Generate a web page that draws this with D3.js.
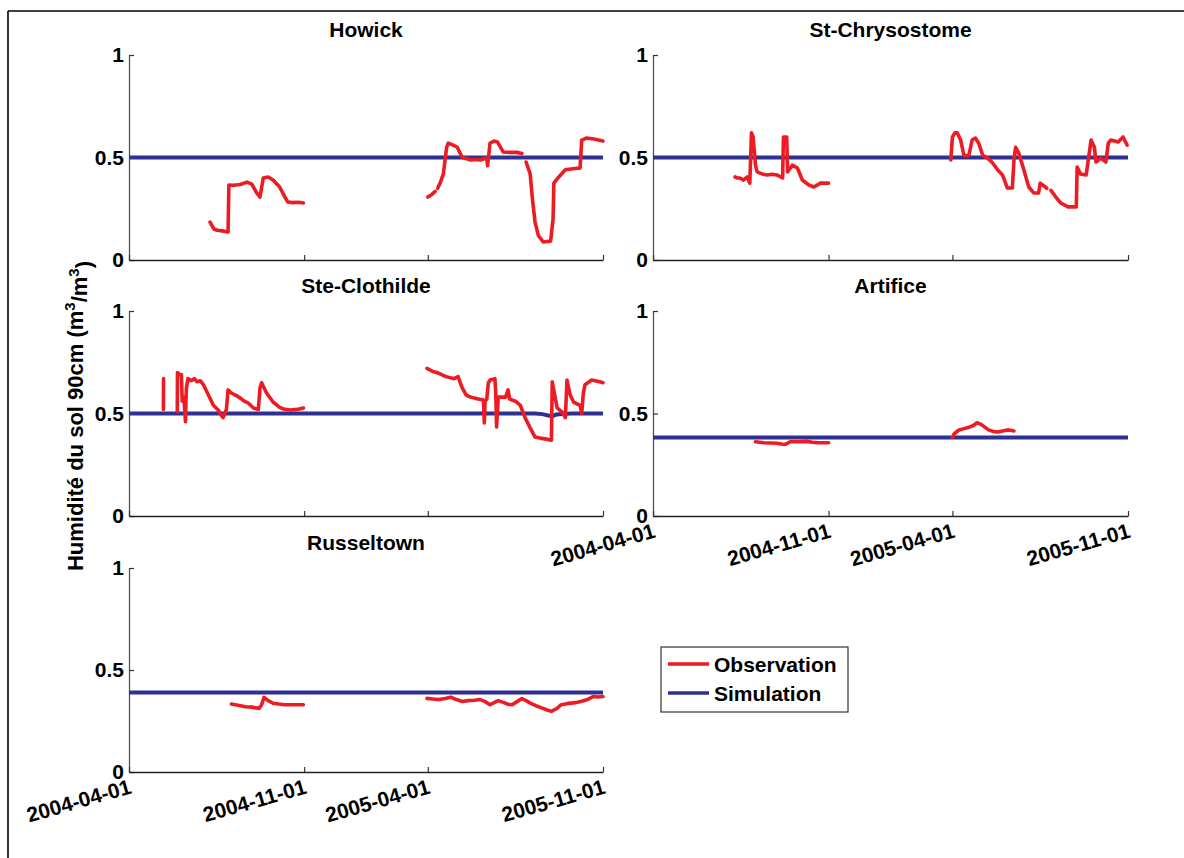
<!DOCTYPE html>
<html>
<head>
<meta charset="utf-8">
<script src="https://cdn.jsdelivr.net/npm/d3@7"></script>
<style>
  html, body { margin: 0; padding: 0; background: #fff; }
  svg { display: block; }
  text { font-family: "Liberation Sans", Arial, Helvetica, sans-serif; font-weight: bold; fill: #000; }
</style>
</head>
<body>
<svg id="chart" width="1184" height="858"></svg>
<script>
// ---------- DATA (days since 2004-04-01, volumetric soil moisture m3/m3) ----------
const startDate = "2004-04-01";
const endDate = "2005-11-01";
const xTickLabels = ["2004-04-01", "2004-11-01", "2005-04-01", "2005-11-01"];
const yTicks = [0, 0.5, 1];
const stations = ["Howick", "St-Chrysostome", "Ste-Clothilde", "Artifice", "Russeltown"];
const legendLabels = ["Observation", "Simulation"];

const howickObs = [
  [[99,0.185],[101,0.17],[104,0.15],[108,0.145],[114,0.142],[121,0.137],[122,0.366],[128,0.365],[136,0.368],[144,0.38],[150,0.37],[156,0.327],[160,0.307],[164,0.40],[170,0.405],[176,0.39],[184,0.356],[190,0.31],[194,0.283],[200,0.28],[207,0.282],[213,0.278]],
  [[365,0.307],[370,0.32],[374,0.335]],
  [[377,0.35],[380,0.375],[384,0.42],[388,0.55],[390,0.57],[396,0.56],[401,0.55],[407,0.50],[412,0.495],[417,0.488],[423,0.49],[429,0.488],[437,0.497],[438,0.46],[441,0.57],[446,0.58],[450,0.576],[457,0.527],[465,0.525],[474,0.525],[480,0.52]],
  [[485,0.478],[490,0.42],[493,0.29],[496,0.185],[500,0.12],[506,0.088],[515,0.092],[518,0.2],[519,0.375],[525,0.405],[533,0.44],[542,0.445],[551,0.449],[553,0.585],[559,0.595],[568,0.59],[579,0.58]]
];
const howickSim = [[0,0.5],[579,0.5]];

const chrysostomeObs = [
  [[100,0.405],[103,0.40],[106,0.40],[110,0.39],[115,0.405],[118,0.375],[120,0.62],[122,0.60],[125,0.46],[127,0.43],[133,0.42],[139,0.415],[145,0.418],[151,0.415],[158,0.40],[159,0.60],[163,0.60],[164,0.43],[170,0.463],[176,0.449],[182,0.39],[190,0.366],[196,0.356],[200,0.365],[204,0.375],[214,0.375]],
  [[363,0.488],[365,0.60],[368,0.62],[371,0.62],[375,0.585],[379,0.51],[385,0.51],[389,0.585],[393,0.595],[397,0.57],[402,0.51],[408,0.497],[414,0.473],[420,0.44],[426,0.415],[432,0.351],[438,0.351],[440,0.488],[442,0.55],[446,0.52],[452,0.44],[458,0.356],[464,0.327],[470,0.327],[472,0.375],[477,0.36],[480,0.35]],
  [[485,0.34],[491,0.307],[497,0.278],[506,0.259],[516,0.259],[517,0.453],[521,0.42],[528,0.415],[534,0.585],[538,0.55],[540,0.478],[546,0.497],[552,0.478],[555,0.57],[558,0.585],[567,0.576],[573,0.60],[578,0.56]]
];
const chrysostomeSim = [[0,0.5],[579,0.5]];

const clothildeObs = [
  [[42,0.52],[42.2,0.67]],
  [[59,0.51],[59.2,0.70],[62,0.69],[64,0.69],[65,0.56],[67,0.58],[69,0.46],[70,0.62],[72,0.67],[76,0.66],[80,0.67],[83,0.655],[87,0.66],[91,0.64],[97,0.59],[103,0.54],[109,0.517],[113,0.49],[115,0.48],[117,0.5],[119,0.52],[121,0.615],[125,0.60],[130,0.59],[136,0.575],[141,0.56],[146,0.55],[152,0.527],[158,0.52],[160,0.625],[162,0.65],[168,0.60],[176,0.556],[184,0.53],[190,0.52],[197,0.517],[205,0.52],[213,0.527]],
  [[364,0.72],[371,0.705],[376,0.70],[382,0.69],[387,0.68],[392,0.675],[397,0.67],[402,0.68],[407,0.625],[412,0.59],[417,0.58],[422,0.575],[428,0.57],[433,0.566],[434,0.454],[435,0.56],[437,0.57],[439,0.65],[441,0.663],[447,0.67],[448,0.60],[449,0.434],[451,0.58],[457,0.58],[460,0.58],[463,0.615],[465,0.57],[472,0.56],[478,0.54],[484,0.478],[490,0.43],[496,0.385],[502,0.38],[510,0.375],[516,0.37],[517,0.655],[520,0.59],[523,0.527],[529,0.507],[533,0.48],[535,0.663],[539,0.59],[543,0.556],[551,0.54],[553,0.50],[555,0.6],[557,0.64],[565,0.663],[575,0.655],[579,0.65]]
];
const clothildeSim = [[0,0.5],[496,0.5],[505,0.497],[512,0.49],[517,0.487],[522,0.495],[530,0.497],[540,0.5],[579,0.5]];

const artificeObs = [
  [[125,0.362],[130,0.36],[135,0.357],[143,0.356],[151,0.355],[158,0.35],[161,0.349],[165,0.357],[167,0.362],[175,0.362],[182,0.363],[188,0.364],[194,0.36],[200,0.358],[207,0.357],[214,0.357]],
  [[365,0.383],[367,0.40],[373,0.42],[378,0.425],[383,0.43],[390,0.44],[395,0.455],[400,0.447],[404,0.435],[409,0.42],[415,0.412],[420,0.41],[426,0.415],[432,0.42],[436,0.418],[440,0.415]]
];
const artificeSim = [[0,0.383],[579,0.383]];

const russeltownObs = [
  [[125,0.333],[130,0.33],[136,0.325],[142,0.32],[150,0.318],[159,0.312],[162,0.33],[165,0.366],[170,0.35],[176,0.337],[183,0.333],[190,0.33],[200,0.33],[207,0.33],[213,0.33]],
  [[364,0.361],[371,0.358],[378,0.355],[386,0.36],[393,0.367],[400,0.355],[407,0.346],[414,0.35],[422,0.352],[429,0.355],[435,0.345],[441,0.33],[446,0.34],[451,0.35],[458,0.34],[463,0.332],[468,0.33],[474,0.345],[480,0.36],[485,0.35],[490,0.338],[497,0.325],[504,0.314],[510,0.305],[516,0.297],[522,0.31],[528,0.33],[535,0.335],[545,0.34],[552,0.346],[560,0.355],[567,0.37],[573,0.368],[579,0.37]]
];
const russeltownSim = [[0,0.39],[579,0.39]];

// ---------- LAYOUT ----------
const OBS_COLOR = "#ed1c24";
const SIM_COLOR = "#2e3192";
const panels = [
  { name: stations[0], obs: howickObs, sim: howickSim, left: 129, right: 603, top: 55, bottom: 260, labels: false },
  { name: stations[1], obs: chrysostomeObs, sim: chrysostomeSim, left: 653, right: 1128, top: 55, bottom: 260, labels: false },
  { name: stations[2], obs: clothildeObs, sim: clothildeSim, left: 129, right: 603, top: 311, bottom: 516, labels: false },
  { name: stations[3], obs: artificeObs, sim: artificeSim, left: 653, right: 1128, top: 311, bottom: 516, labels: true },
  { name: stations[4], obs: russeltownObs, sim: russeltownSim, left: 129, right: 603, top: 568, bottom: 772, labels: true }
];

const svg = d3.select("#chart");
const parse = d3.utcParse("%Y-%m-%d");
const t0 = parse(startDate), t1 = parse(endDate);
const toDate = d => new Date(t0.getTime() + d * 86400000);

// outer frame (top and left edges)
svg.append("line").attr("x1", 8).attr("y1", 11).attr("x2", 1184).attr("y2", 11)
  .attr("stroke", "#000").attr("stroke-width", 1.6);
svg.append("line").attr("x1", 8).attr("y1", 11).attr("x2", 8).attr("y2", 858)
  .attr("stroke", "#000").attr("stroke-width", 1.6);

panels.forEach(p => {
  const x = d3.scaleUtc().domain([t0, t1]).range([p.left, p.right]);
  const y = d3.scaleLinear().domain([0, 1]).range([p.bottom, p.top]);
  const g = svg.append("g");

  // axes
  const yAxis = d3.axisLeft(y).tickValues(yTicks).tickFormat(d3.format("")).tickSizeInner(-5).tickSizeOuter(0).tickPadding(5);
  const gy = g.append("g").attr("transform", `translate(${p.left},0)`).call(yAxis);
  gy.select(".domain").attr("stroke", "#555").attr("stroke-width", 1.3);
  gy.selectAll(".tick line").attr("stroke", "#333").attr("stroke-width", 1.2);
  gy.selectAll(".tick text").style("font-size", "21px").style("font-family", "'Liberation Sans', Arial, sans-serif").style("font-weight", "bold").attr("fill", "#000");

  const xAxis = d3.axisBottom(x).tickValues(xTickLabels.map(parse))
    .tickFormat(d3.utcFormat("%Y-%m-%d")).tickSizeInner(-5).tickSizeOuter(0);
  const gx = g.append("g").attr("transform", `translate(0,${p.bottom})`).call(xAxis);
  gx.select(".domain").attr("stroke", "#222").attr("stroke-width", 1.3);
  gx.selectAll(".tick line").attr("stroke", "#333").attr("stroke-width", 1.2);
  if (p.labels) {
    gx.selectAll(".tick text")
      .attr("x", 0).attr("y", 0).attr("dy", 0)
      .attr("text-anchor", "end")
      .attr("transform", "translate(3,21) rotate(-16)")
      .style("font-size", "21px").style("font-family", "'Liberation Sans', Arial, sans-serif").style("font-weight", "bold").attr("fill", "#000");
  } else {
    gx.selectAll(".tick text").remove();
  }

  // title
  g.append("text").attr("x", (p.left + p.right) / 2).attr("y", p.top - 18)
    .attr("text-anchor", "middle").style("font-size", "21px").text(p.name);

  const line = d3.line().x(d => x(toDate(d[0]))).y(d => y(d[1]));

  // simulation
  g.append("path").datum(p.sim).attr("d", line)
    .attr("fill", "none").attr("stroke", SIM_COLOR).attr("stroke-width", 4);

  // observation segments
  g.selectAll(".obs").data(p.obs).join("path").attr("class", "obs")
    .attr("d", line).attr("fill", "none").attr("stroke", OBS_COLOR)
    .attr("stroke-width", 3.6).attr("stroke-linejoin", "round").attr("stroke-linecap", "round");
});

// y-axis label
const yl = svg.append("text").attr("transform", "translate(83,416) rotate(-90)")
  .attr("text-anchor", "middle").style("font-size", "22px");
yl.append("tspan").text("Humidité du sol 90cm (m");
yl.append("tspan").attr("dy", "-0.55em").style("font-size", "15px").text("3");
yl.append("tspan").attr("dy", "0.55em").text("/m");
yl.append("tspan").attr("dy", "-0.55em").style("font-size", "15px").text("3");
yl.append("tspan").attr("dy", "0.55em").text(")");

// legend
const lg = svg.append("g");
lg.append("rect").attr("x", 661).attr("y", 647).attr("width", 187).attr("height", 65)
  .attr("fill", "#fff").attr("stroke", "#333").attr("stroke-width", 1.2);
[OBS_COLOR, SIM_COLOR].forEach((c, i) => {
  const yy = 664 + i * 29;
  lg.append("line").attr("x1", 668).attr("x2", 709).attr("y1", yy).attr("y2", yy)
    .attr("stroke", c).attr("stroke-width", 3.5);
  lg.append("text").attr("x", 714).attr("y", yy + 7.5).style("font-size", "21px").text(legendLabels[i]);
});
</script>
</body>
</html>
